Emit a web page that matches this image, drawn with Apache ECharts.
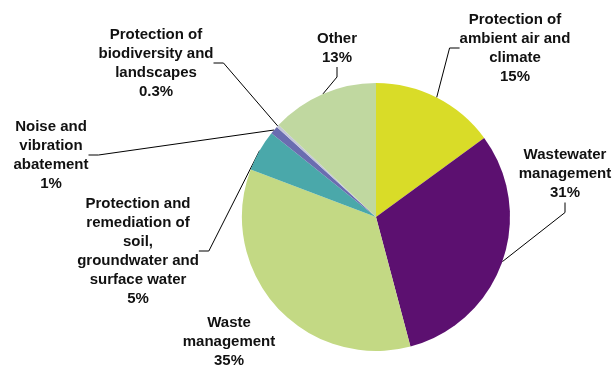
<!DOCTYPE html>
<html>
<head>
<meta charset="utf-8">
<script src="https://cdn.jsdelivr.net/npm/echarts@6/dist/echarts.min.js"></script>
<style>
  html, body { margin: 0; padding: 0; background: #fff; }
  #main { width: 615px; height: 367px; }
</style>
</head>
<body>
<div id="main"></div>
<script>
var categories = [
    'Protection of\nambient air and\nclimate',
    'Wastewater\nmanagement',
    'Waste\nmanagement',
    'Protection and\nremediation of\nsoil,\ngroundwater and\nsurface water',
    'Noise and\nvibration\nabatement',
    'Protection of\nbiodiversity and\nlandscapes',
    'Other'
];
var shares = [15, 31, 35, 5, 1, 0.3, 13];
var colors = ['#d9dc28', '#5c1070', '#c3d984', '#4aa8aa', '#6a6db0', '#c4c6d8', '#c0d8a0'];
// waste management label has no leader line in the original
var showLine = [true, true, false, true, true, true, true];

// where each label sits (centre of text block)
var labelPos = [
    [515, 48],
    [565, 174],
    [229, 342],
    [138, 251],
    [51, 155],
    [156, 63],
    [337, 48]
];

var chart = echarts.init(document.getElementById('main'));

var option = {
    animation: false,
    series: [{
        type: 'pie',
        center: [376, 217],
        radius: 134,
        startAngle: 90,
        clockwise: true,
        data: categories.map(function (c, i) {
            return {
                name: c,
                value: shares[i],
                itemStyle: { color: colors[i] },
                labelLine: { show: showLine[i] }
            };
        }),
        label: {
            show: true,
            formatter: '{b}\n{c}%',
            fontFamily: 'Liberation Sans, Arial, sans-serif',
            fontWeight: 'bold',
            fontSize: 15,
            lineHeight: 19,
            color: '#111',
            align: 'center',
            overflow: 'none'
        },
        labelLine: {
            show: true,
            length: 10,
            length2: 10,
            lineStyle: { color: '#000', width: 1 }
        },
        labelLayout: function (params) {
            var p = labelPos[params.dataIndex];
            return {
                x: p[0],
                y: p[1],
                align: 'center',
                verticalAlign: 'middle'
            };
        },
        itemStyle: { borderWidth: 0 },
        emphasis: { disabled: true }
    }]
};

chart.setOption(option);
</script>
</body>
</html>
